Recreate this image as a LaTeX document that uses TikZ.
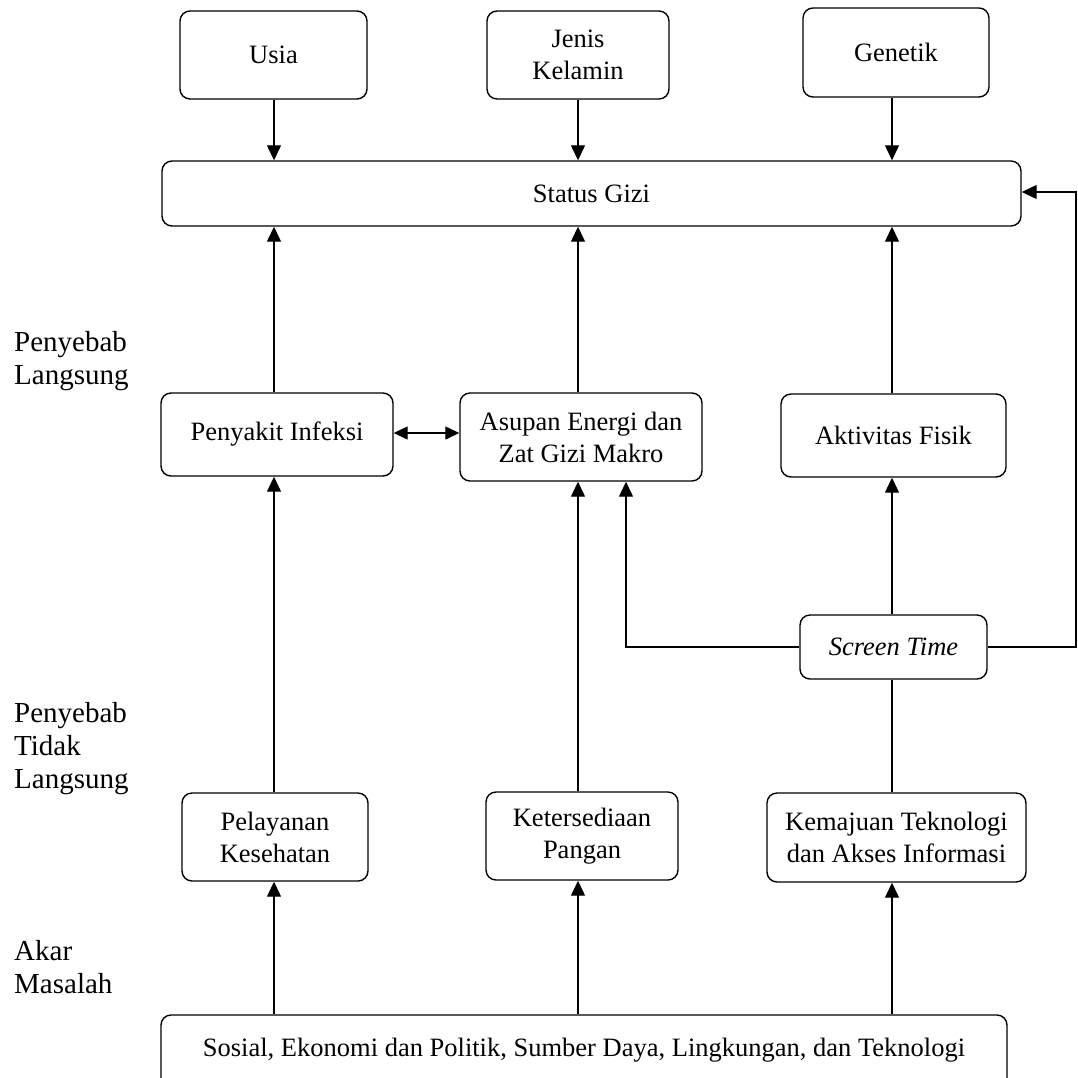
\documentclass[tikz,border=0pt]{standalone}
\usepackage{fontspec}
\setmainfont{Liberation Serif}
\usetikzlibrary{arrows.meta,calc}
\begin{document}
\begin{tikzpicture}[x=1pt,y=-1pt,
  box/.style={draw, line width=1.4pt, rounded corners=10pt, inner sep=0pt, align=center,
    font=\fontsize{26.5}{32}\selectfont},
  lbl/.style={anchor=west, align=left, inner sep=0pt, font=\fontsize{29}{33}\selectfont},
  conn/.style={line width=1.3pt},
  arr/.style={conn, -{Triangle[length=15pt,width=14pt]}},
  darr/.style={conn, {Triangle[length=14pt,width=13pt]}-{Triangle[length=14pt,width=13pt]}},
]
\useasboundingbox[fill=white] (0,0) rectangle (1078,1077);
\begin{scope}
\clip (0,0) rectangle (1078,1077);
% column coordinates
\coordinate (cA) at (274,0);
\coordinate (cB) at (578,0);
\coordinate (cC) at (892,0);
\coordinate (cS) at (626,0);
\coordinate (cR) at (1076,0);
% top row
\node[box, minimum width=187pt, minimum height=88pt] (usia) at (273.5,55) {Usia};
\node[box, minimum width=182pt, minimum height=88pt] (jk) at (578,55) {Jenis\\Kelamin};
\node[box, minimum width=186pt, minimum height=89pt] (gen) at (896,52.5) {Genetik};
% status gizi
\node[box, minimum width=859pt, minimum height=65pt] (sg) at (591.5,193.5) {Status Gizi};
% middle row
\node[box, minimum width=232pt, minimum height=83pt] (pi) at (277,434.5) {Penyakit Infeksi};
\node[box, minimum width=242pt, minimum height=88pt] (as) at (581,437) {Asupan Energi dan\\Zat Gizi Makro};
\node[box, minimum width=225pt, minimum height=83pt] (af) at (893.5,435.5) {Aktivitas Fisik};
% screen time
\node[box, minimum width=187pt, minimum height=64pt] (st) at (893.5,647) {\itshape Screen Time};
% lower row
\node[box, minimum width=186pt, minimum height=88pt] (pk) at (275,837) {Pelayanan\\Kesehatan};
\node[box, minimum width=192pt, minimum height=88pt] (kp) at (582,836) {Ketersediaan\\Pangan};
\node[box, minimum width=259pt, minimum height=89pt] (kt) at (896.5,837.5) {Kemajuan Teknologi\\dan Akses Informasi};
% bottom (runs off the lower edge)
\node[box, minimum width=846pt, minimum height=102pt, text height=20pt, text depth=40pt] (akar) at (584,1066) {Sosial, Ekonomi dan Politik, Sumber Daya, Lingkungan, dan Teknologi};
% left labels
\node[lbl] (l1) at (14,361) {Penyebab\\Langsung};
\node[lbl] (l2) at (14,749) {Penyebab\\Tidak\\Langsung};
\node[lbl] (l3) at (14,967.5) {Akar\\Masalah};
% connectors top
\draw[arr] (cA |- usia.south) -- (cA |- sg.north);
\draw[arr] (cB |- jk.south) -- (cB |- sg.north);
\draw[arr] (cC |- gen.south) -- (cC |- sg.north);
% middle to status gizi
\draw[arr] (cA |- pi.north) -- (cA |- sg.south);
\draw[arr] (cB |- as.north) -- (cB |- sg.south);
\draw[arr] (cC |- af.north) -- (cC |- sg.south);
% double arrow
\coordinate (dy) at (0,433);
\draw[darr] (pi.east |- dy) -- (as.west |- dy);
% lower to middle
\draw[arr] (cA |- pk.north) -- (cA |- pi.south);
\draw[arr] (cB |- kp.north) -- (cB |- as.south);
% screen time
\draw[arr] (st.west) -| (cS |- as.south);
\draw[arr] (cC |- st.north) -- (cC |- af.south);
\coordinate (ry) at (0,192);
\draw[arr] (st.east) -| (cR |- ry) -- (sg.east |- ry);
\draw[conn] (cC |- kt.north) -- (cC |- st.south);
% root to lower
\draw[arr] (cA |- akar.north) -- (cA |- pk.south);
\draw[arr] (cB |- akar.north) -- (cB |- kp.south);
\draw[arr] (cC |- akar.north) -- (cC |- kt.south);
\end{scope}
\end{tikzpicture}
\end{document}
